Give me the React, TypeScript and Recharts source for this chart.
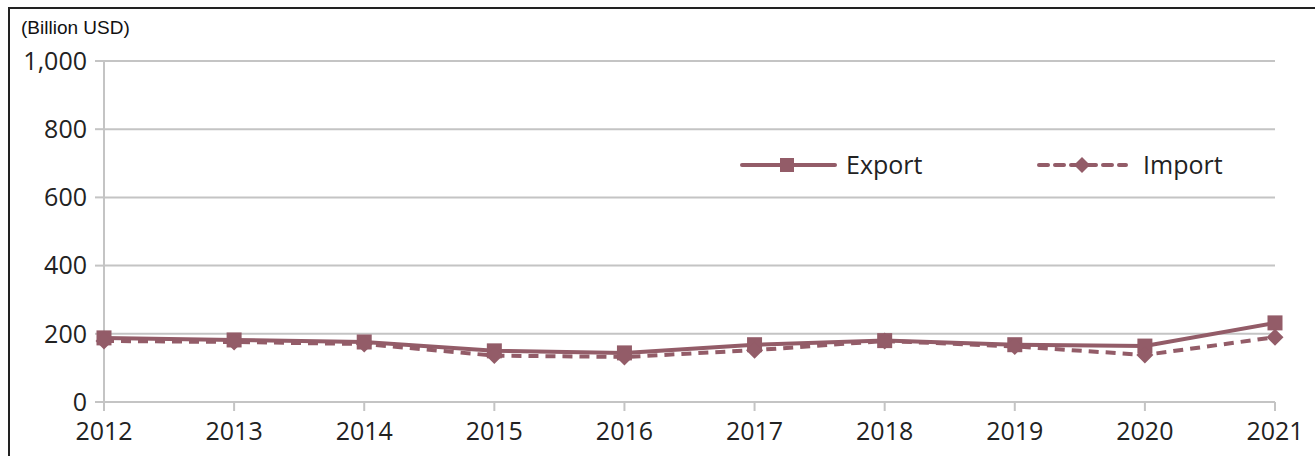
import { LineChart, Line, XAxis, YAxis, CartesianGrid } from "recharts";

const years = ["2012", "2013", "2014", "2015", "2016", "2017", "2018", "2019", "2020", "2021"];
const exportValues = [188, 182, 176, 150, 144, 168, 180, 168, 164, 232];
const importValues = [179, 176, 170, 136, 132, 152, 179, 163, 138, 190];
const yTicks = [0, 200, 400, 600, 800, 1000];

const LINE_COLOR = "#935c68";
const GRID_COLOR = "#c4c4c4";
const TICK_FONT = "'Open Sans', sans-serif";

const data = years.map((year, i) => ({
  year,
  exportValue: exportValues[i],
  importValue: importValues[i],
}));

const SquareDot = (props: any) => {
  const { cx, cy } = props;
  if (cx == null || cy == null) return null;
  return <rect x={cx - 7.5} y={cy - 7.5} width={15} height={15} fill={LINE_COLOR} />;
};

const DiamondDot = (props: any) => {
  const { cx, cy } = props;
  if (cx == null || cy == null) return null;
  const r = 8.5;
  return (
    <polygon
      points={`${cx},${cy - r} ${cx + r},${cy} ${cx},${cy + r} ${cx - r},${cy}`}
      fill={LINE_COLOR}
    />
  );
};

// legend drawn by hand, placed inside the plot like the original
const ChartLegend = () => (
  <div
    style={{
      position: "absolute",
      left: 740,
      top: 145,
      width: 520,
      height: 40,
      fontFamily: TICK_FONT,
      fontSize: 25,
      color: "#222",
    }}
  >
    <svg width={520} height={40} style={{ position: "absolute", left: 0, top: 0 }}>
      <line x1={2} y1={20} x2={95} y2={20} stroke={LINE_COLOR} strokeWidth={4} strokeLinecap="round" />
      <rect x={40} y={13} width={14} height={14} fill={LINE_COLOR} />
      <line x1={299} y1={20} x2={386} y2={20} stroke={LINE_COLOR} strokeWidth={4} strokeDasharray="9 7" strokeLinecap="round" />
      <polygon points="342,12 350,20 342,28 334,20" fill={LINE_COLOR} />
    </svg>
    <span style={{ position: "absolute", left: 106, top: 2 }}>Export</span>
    <span style={{ position: "absolute", left: 403, top: 2 }}>Import</span>
  </div>
);

export default function App() {
  return (
    <div style={{ position: "absolute", left: 0, top: 0, width: 1315, height: 456, overflow: "hidden", background: "#fff" }}>
      {/* frame of the original figure */}
      <div
        style={{
          position: "absolute",
          left: 8,
          top: 7,
          width: 1320,
          height: 470,
          borderTop: "2px solid #222",
          borderLeft: "2px solid #222",
        }}
      />
      <div
        style={{
          position: "absolute",
          left: 21,
          top: 17,
          fontFamily: "'Liberation Sans', Arial, sans-serif",
          fontSize: 19,
          color: "#111",
        }}
      >
        (Billion USD)
      </div>
      <LineChart
        width={1315}
        height={456}
        data={data}
        margin={{ top: 61, right: 40, bottom: 0, left: 0 }}
        style={{ position: "absolute", left: 0, top: 0 }}
      >
        <CartesianGrid vertical={false} stroke={GRID_COLOR} strokeWidth={2} />
        <XAxis
          dataKey="year"
          height={54}
          interval={0}
          padding={{ left: 0, right: 0 }}
          axisLine={{ stroke: GRID_COLOR, strokeWidth: 2 }}
          tickLine={{ stroke: GRID_COLOR, strokeWidth: 2 }}
          tickSize={9}
          tick={{ fill: "#222", fontSize: 25, fontFamily: TICK_FONT }}
          tickMargin={11}
        />
        <YAxis
          width={104}
          domain={[0, 1000]}
          ticks={yTicks}
          interval={0}
          tickFormatter={(v: number) => v.toLocaleString("en-US")}
          axisLine={{ stroke: GRID_COLOR, strokeWidth: 2 }}
          tickLine={{ stroke: GRID_COLOR, strokeWidth: 2 }}
          tickSize={9}
          tickMargin={8}
          tick={{ fill: "#222", fontSize: 25, fontFamily: TICK_FONT }}
        />
        <Line
          type="linear"
          dataKey="exportValue"
          name="Export"
          stroke={LINE_COLOR}
          strokeWidth={4}
          dot={<SquareDot />}
          activeDot={false}
          isAnimationActive={false}
        />
        <Line
          type="linear"
          dataKey="importValue"
          name="Import"
          stroke={LINE_COLOR}
          strokeWidth={4}
          strokeDasharray="10 7"
          dot={<DiamondDot />}
          activeDot={false}
          isAnimationActive={false}
        />
      </LineChart>
      <ChartLegend />
    </div>
  );
}
